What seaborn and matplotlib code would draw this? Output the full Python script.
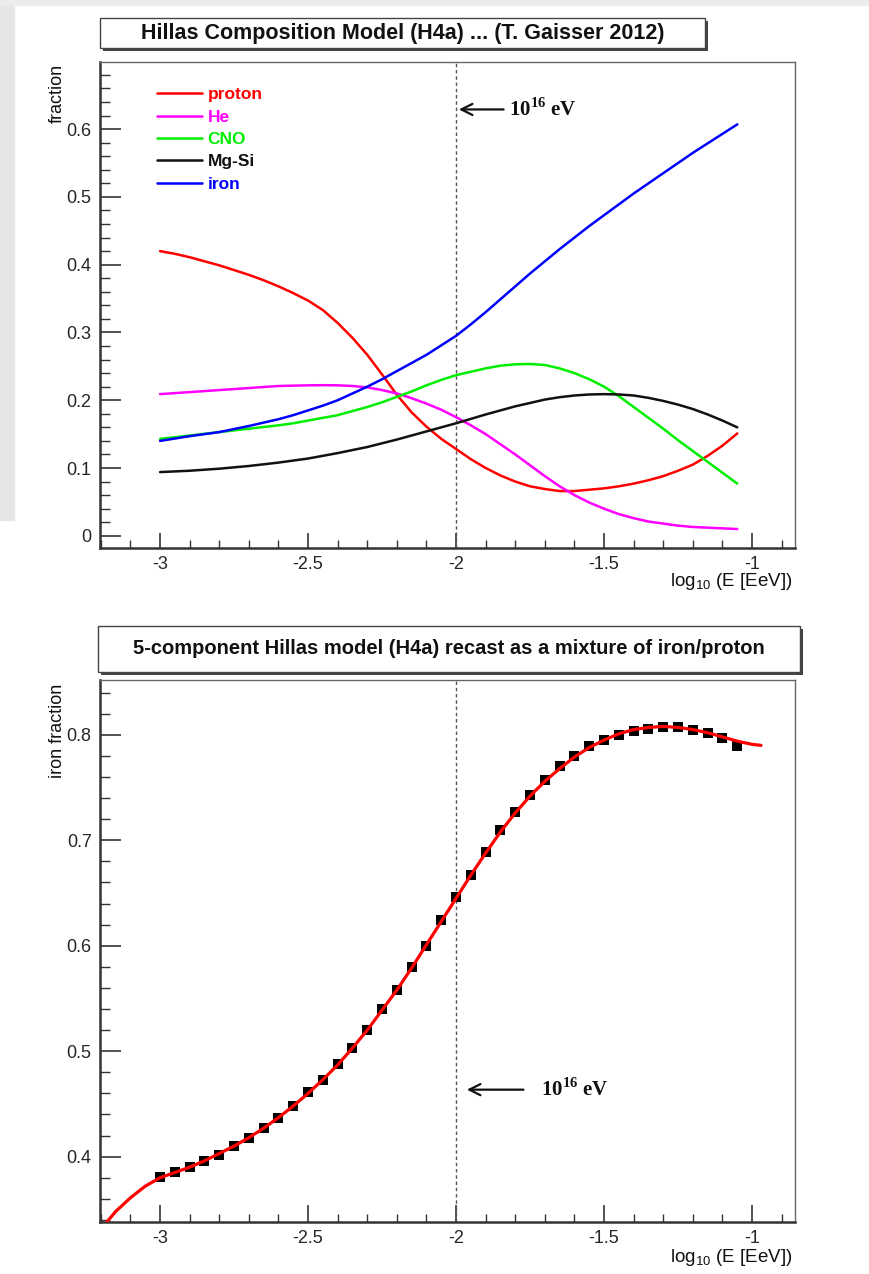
import numpy as np
import pandas as pd
import matplotlib
matplotlib.use('Agg')
import matplotlib.pyplot as plt
from matplotlib.patches import Rectangle
from matplotlib.ticker import MultipleLocator
import seaborn as sns

# ---- top panel: 5-component H4a fractions ----
log_e = [-3.0, -2.95, -2.9, -2.85, -2.8, -2.75, -2.7, -2.65, -2.6, -2.55,
         -2.5, -2.45, -2.4, -2.35, -2.3, -2.25, -2.2, -2.15, -2.1, -2.05,
         -2.0, -1.95, -1.9, -1.85, -1.8, -1.75, -1.7, -1.65, -1.6, -1.55,
         -1.5, -1.45, -1.4, -1.35, -1.3, -1.25, -1.2, -1.15, -1.1, -1.05]
proton = [0.420, 0.416, 0.411, 0.405, 0.399, 0.392, 0.385, 0.377, 0.368, 0.358,
          0.347, 0.333, 0.314, 0.292, 0.267, 0.238, 0.208, 0.182, 0.161, 0.143,
          0.128, 0.113, 0.100, 0.089, 0.080, 0.073, 0.069, 0.066, 0.066, 0.068,
          0.070, 0.073, 0.077, 0.082, 0.088, 0.096, 0.105, 0.118, 0.133, 0.151]
helium = [0.209, 0.2105, 0.212, 0.2135, 0.215, 0.2165, 0.218, 0.2195, 0.221, 0.2215,
          0.222, 0.2222, 0.222, 0.221, 0.219, 0.215, 0.210, 0.203, 0.195, 0.186,
          0.175, 0.163, 0.150, 0.135, 0.120, 0.104, 0.088, 0.073, 0.060, 0.049,
          0.040, 0.032, 0.026, 0.021, 0.018, 0.015, 0.013, 0.012, 0.011, 0.010]
cno = [0.143, 0.1455, 0.148, 0.1505, 0.153, 0.1555, 0.158, 0.1605, 0.163, 0.166,
       0.170, 0.174, 0.178, 0.184, 0.190, 0.197, 0.205, 0.213, 0.222, 0.230,
       0.237, 0.242, 0.247, 0.251, 0.253, 0.2535, 0.252, 0.247, 0.240, 0.231,
       0.220, 0.206, 0.190, 0.174, 0.158, 0.141, 0.125, 0.109, 0.093, 0.077]
mgsi = [0.094, 0.095, 0.096, 0.0975, 0.099, 0.101, 0.103, 0.1055, 0.108, 0.111,
        0.114, 0.118, 0.122, 0.1265, 0.131, 0.1365, 0.142, 0.148, 0.154, 0.160,
        0.166, 0.1725, 0.179, 0.185, 0.191, 0.196, 0.201, 0.2045, 0.207, 0.2085,
        0.209, 0.2085, 0.207, 0.2035, 0.199, 0.1935, 0.187, 0.179, 0.170, 0.160]
iron = [0.140, 0.1435, 0.147, 0.150, 0.153, 0.1575, 0.162, 0.167, 0.172, 0.178,
        0.185, 0.192, 0.200, 0.210, 0.220, 0.231, 0.243, 0.255, 0.267, 0.281,
        0.295, 0.312, 0.330, 0.349, 0.368, 0.387, 0.405, 0.423, 0.440, 0.457,
        0.473, 0.489, 0.505, 0.520, 0.535, 0.550, 0.565, 0.579, 0.593, 0.607]

components = ['proton', 'He', 'CNO', 'Mg-Si', 'iron']
comp_values = [proton, helium, cno, mgsi, iron]
comp_colors = {'proton': '#ff0000', 'He': '#ff00ff', 'CNO': '#00ee00',
               'Mg-Si': '#111111', 'iron': '#0000ff'}

# ---- bottom panel: iron fraction of iron/proton mixture ----
mix_e = log_e
mix_frac = [0.381, 0.385, 0.390, 0.396, 0.402, 0.410, 0.418, 0.427, 0.437, 0.448,
            0.461, 0.473, 0.488, 0.503, 0.520, 0.540, 0.558, 0.580, 0.600, 0.624,
            0.646, 0.667, 0.689, 0.710, 0.727, 0.743, 0.757, 0.770, 0.780, 0.789,
            0.795, 0.800, 0.804, 0.806, 0.807, 0.807, 0.805, 0.802, 0.797, 0.789]

fit_e = [-3.18, -3.15, -3.1, -3.05, -3.0, -2.95, -2.9, -2.85, -2.8, -2.75, -2.7,
         -2.65, -2.6, -2.55, -2.5, -2.45, -2.4, -2.35, -2.3, -2.25, -2.2, -2.15,
         -2.1, -2.05, -2.0, -1.95, -1.9, -1.85, -1.8, -1.75, -1.7, -1.65, -1.6,
         -1.55, -1.5, -1.45, -1.4, -1.35, -1.3, -1.25, -1.2, -1.15, -1.1, -1.05,
         -1.0, -0.97]
fit_frac = [0.338, 0.348, 0.361, 0.372, 0.380, 0.385, 0.390, 0.396, 0.403, 0.410, 0.418,
            0.427, 0.437, 0.448, 0.460, 0.473, 0.487, 0.503, 0.520, 0.539, 0.558, 0.579,
            0.601, 0.623, 0.645, 0.667, 0.688, 0.708, 0.726, 0.742, 0.756, 0.768, 0.779,
            0.788, 0.795, 0.801, 0.805, 0.807, 0.808, 0.807, 0.805, 0.802, 0.798, 0.794,
            0.791, 0.790]

W, H = 870, 1274
sns.set_style('ticks')
plt.rcParams['font.family'] = ['Liberation Sans', 'DejaVu Sans']
plt.rcParams['mathtext.fontset'] = 'custom'
plt.rcParams['mathtext.rm'] = 'Liberation Sans'
plt.rcParams['mathtext.bf'] = 'Liberation Serif:bold'

fig = plt.figure(figsize=(W / 100, H / 100), dpi=100)
fig.patch.set_facecolor('white')


def fx(px):
    return px / W


def fy(py):
    return 1 - py / H


# faint page border at the top left
fig.patches.append(Rectangle((0, fy(520)), fx(14), fy(0) - fy(520),
                             transform=fig.transFigure, color='#e6e6e6', zorder=-5))
fig.patches.append(Rectangle((0, fy(5)), 1, fy(0) - fy(5),
                             transform=fig.transFigure, color='#ececec', zorder=-5))


def title_box(x0, y0, x1, y1, text, size):
    # ROOT-style title pave with a drop shadow
    fig.patches.append(Rectangle((fx(x0 + 3), fy(y1 + 3)), fx(x1 - x0), fy(y0) - fy(y1),
                                 transform=fig.transFigure, facecolor='#444444',
                                 edgecolor='none', zorder=1))
    fig.patches.append(Rectangle((fx(x0), fy(y1)), fx(x1 - x0), fy(y0) - fy(y1),
                                 transform=fig.transFigure, facecolor='white',
                                 edgecolor='#444444', lw=1.0, zorder=2))
    fig.text(fx((x0 + x1) / 2), fy((y0 + y1) / 2), text, ha='center', va='center',
             fontsize=size, fontweight='bold', color='#111111', zorder=3)


def style_axes(ax, ymaj, ymin, ylen, xlen):
    ax.xaxis.set_major_locator(MultipleLocator(0.5))
    ax.xaxis.set_minor_locator(MultipleLocator(0.1))
    ax.yaxis.set_major_locator(MultipleLocator(ymaj))
    ax.yaxis.set_minor_locator(MultipleLocator(ymin))
    ax.tick_params(axis='x', which='major', direction='in', length=xlen, width=1.2,
                   top=False, labelsize=13, pad=6, color='#333333')
    ax.tick_params(axis='x', which='minor', direction='in', length=xlen / 2, width=1.0,
                   top=False, color='#333333')
    ax.tick_params(axis='y', which='major', direction='in', length=ylen, width=1.2,
                   right=False, labelsize=13, pad=6, color='#333333')
    ax.tick_params(axis='y', which='minor', direction='in', length=ylen / 2, width=1.0,
                   right=False, color='#333333')
    for side in ['left', 'bottom']:
        ax.spines[side].set_linewidth(1.8)
        ax.spines[side].set_color('#333333')
    for side in ['top', 'right']:
        ax.spines[side].set_linewidth(1.0)
        ax.spines[side].set_color('#666666')
    ax.set_xlabel('')
    ax.set_ylabel('')
    ax.axvline(-2.0, color='#555555', lw=1.0, ls=(0, (2.5, 2)), zorder=1)


def fmt(v, pos):
    return f'{v:g}'


def energy_note(ax, head, tail, y, text_x):
    ax.annotate('', xy=(head, y), xytext=(tail, y),
                arrowprops=dict(arrowstyle='->', color='#111111', lw=1.6,
                                mutation_scale=20))
    ax.text(text_x, y, r'10$^{\mathbf{16}}$ eV', fontsize=15, fontweight='bold',
            family='Liberation Serif', va='center', ha='left', color='#111111')


# ---- top panel ----
ax1 = fig.add_axes([fx(100), fy(548), fx(695), fy(62) - fy(548)])
top_df = pd.DataFrame({
    'log_e': np.tile(log_e, len(components)),
    'fraction': np.concatenate(comp_values),
    'component': np.repeat(components, len(log_e)),
})
sns.lineplot(data=top_df, x='log_e', y='fraction', hue='component',
             hue_order=components, palette=comp_colors, lw=1.8, ax=ax1, legend=True)
ax1.set_xlim(-3.203, -0.855)
ax1.set_ylim(-0.018, 0.699)
style_axes(ax1, 0.1, 0.02, 15, 11)
ax1.xaxis.set_major_formatter(fmt)
ax1.yaxis.set_major_formatter(fmt)
handles, labels = ax1.get_legend_handles_labels()
ax1.legend(handles, labels, loc='upper left', bbox_to_anchor=(0.06, 0.98),
           frameon=False, handlelength=2.6, handletextpad=0.3, labelspacing=0.41,
           prop={'weight': 'bold', 'size': 12.5}, labelcolor='linecolor')
energy_note(ax1, -2.0, -1.83, 0.629, -1.822)

# ---- bottom panel ----
ax2 = fig.add_axes([fx(100), fy(1222), fx(695), fy(680) - fy(1222)])
fit_df = pd.DataFrame({'log_e': fit_e, 'iron_frac': fit_frac})
pts_df = pd.DataFrame({'log_e': mix_e, 'iron_frac': mix_frac})
sns.scatterplot(data=pts_df, x='log_e', y='iron_frac', marker='s', s=52,
                color='black', edgecolor='black', linewidth=0, ax=ax2, zorder=3)
sns.lineplot(data=fit_df, x='log_e', y='iron_frac', color='#ff0000', lw=2.3,
             ax=ax2, zorder=4)
ax2.set_xlim(-3.203, -0.855)
ax2.set_ylim(0.338, 0.852)
style_axes(ax2, 0.1, 0.02, 15, 12)
ax2.xaxis.set_major_formatter(fmt)
ax2.yaxis.set_major_formatter(fmt)
energy_note(ax2, -1.973, -1.763, 0.4635, -1.712)

# ---- titles and axis labels ----
title_box(100, 18, 705, 48, 'Hillas Composition Model (H4a) ... (T. Gaisser 2012)', 15.5)
title_box(98, 626, 800, 672,
          '5-component Hillas model (H4a) recast as a mixture of iron/proton', 14.5)

fig.text(fx(57), fy(64), 'fraction', rotation=90, ha='center', va='top', fontsize=13,
         color='#111111')
fig.text(fx(57), fy(684), 'iron fraction', rotation=90, ha='center', va='top',
         fontsize=13, color='#111111')
fig.text(fx(792), fy(586), r'log$_{10}$ (E [EeV])', ha='right', va='baseline',
         fontsize=13.5, color='#111111')
fig.text(fx(792), fy(1262), r'log$_{10}$ (E [EeV])', ha='right', va='baseline',
         fontsize=13.5, color='#111111')

fig.savefig('out.png', dpi=100)
